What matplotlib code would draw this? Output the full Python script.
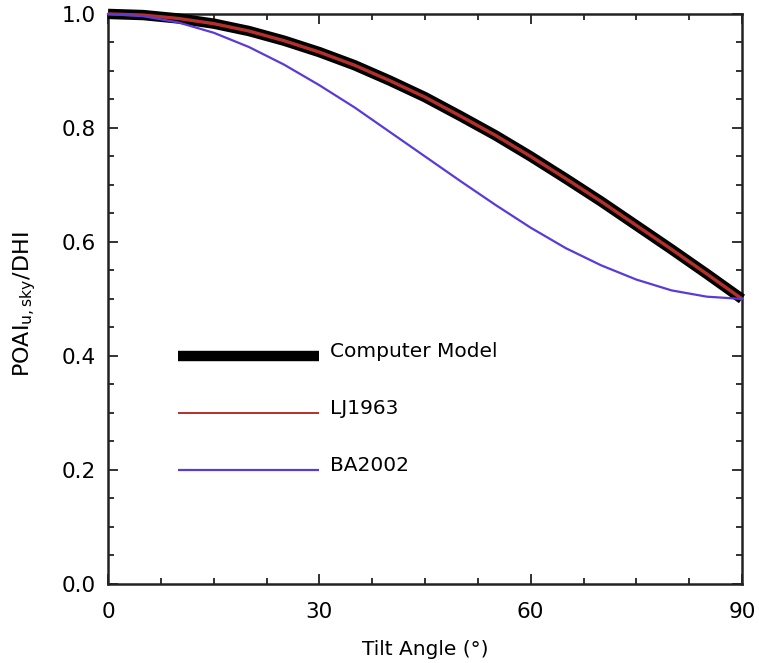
import matplotlib
matplotlib.use("Agg")
import matplotlib.pyplot as plt
from matplotlib.ticker import MultipleLocator

tilt = [0, 5, 10, 15, 20, 25, 30, 35, 40, 45, 50, 55, 60, 65, 70, 75, 80, 85, 90]
computer_model = [1.000, 0.998, 0.992, 0.983, 0.970, 0.953, 0.933, 0.910, 0.883, 0.854,
                  0.821, 0.787, 0.750, 0.711, 0.671, 0.629, 0.587, 0.544, 0.500]
lj1963 = [1.000, 0.998, 0.992, 0.983, 0.970, 0.953, 0.933, 0.910, 0.883, 0.854,
          0.821, 0.787, 0.750, 0.711, 0.671, 0.629, 0.587, 0.544, 0.500]
ba2002 = [1.000, 0.996, 0.985, 0.967, 0.942, 0.911, 0.875, 0.836, 0.793, 0.750,
          0.707, 0.665, 0.625, 0.589, 0.559, 0.534, 0.515, 0.504, 0.500]

series_names = ["Computer Model", "LJ1963", "BA2002"]
legend_levels = [0.40, 0.30, 0.20]

plt.rcParams['font.family'] = ['DejaVu Sans']

fig = plt.figure(figsize=(7.59, 6.63), dpi=100)
ax = fig.add_axes([0.1423, 0.1192, 0.9776 - 0.1423, 0.979 - 0.1192])

black = "#000000"
red = "#b5302a"
blue = "#5a3ad8"

ax.plot(tilt, computer_model, color=black, lw=7.5, clip_on=False, zorder=3,
        solid_capstyle='butt')
ax.plot(tilt, lj1963, color=red, lw=2.4, clip_on=False, zorder=4, solid_capstyle='butt')
ax.plot(tilt, ba2002, color=blue, lw=1.6, clip_on=False, zorder=5)

styles = [(black, 7.5), (red, 1.4), (blue, 1.6)]
for name, lvl, (c, w) in zip(series_names, legend_levels, styles):
    ax.plot([10, 30], [lvl, lvl], color=c, lw=w, solid_capstyle='butt')
    ax.text(31.5, lvl + 0.008, name, fontsize=14.5, va='center', ha='left')

ax.set_xlim(0, 90)
ax.set_ylim(0, 1.0)
ax.xaxis.set_major_locator(MultipleLocator(30))
ax.xaxis.set_minor_locator(MultipleLocator(7.5))
ax.yaxis.set_major_locator(MultipleLocator(0.2))
ax.yaxis.set_minor_locator(MultipleLocator(0.05))
ax.set_xticks([0, 30, 60, 90])
ax.set_yticks([0.0, 0.2, 0.4, 0.6, 0.8, 1.0])
ax.set_yticklabels(["0.0", "0.2", "0.4", "0.6", "0.8", "1.0"])

ax.tick_params(which='both', direction='in', top=True, right=True, labelsize=15.5, width=1.3, color='#222222')
ax.tick_params(which='major', length=7.5)
ax.tick_params(axis='y', which='major', pad=9)
ax.tick_params(axis='x', which='major', pad=13)
ax.tick_params(which='minor', length=4.5)
for s in ax.spines.values():
    s.set_linewidth(1.8)
    s.set_color('#222222')

ax.set_xlabel("Tilt Angle (°)", fontsize=14.5)
ax.xaxis.set_label_coords(0.5, -0.098)
ax.set_ylabel(r"POAI$_{\mathregular{u,sky}}$/DHI", fontsize=16)
ax.yaxis.set_label_coords(-0.11, 0.49)

fig.savefig("out.png", dpi=100)
